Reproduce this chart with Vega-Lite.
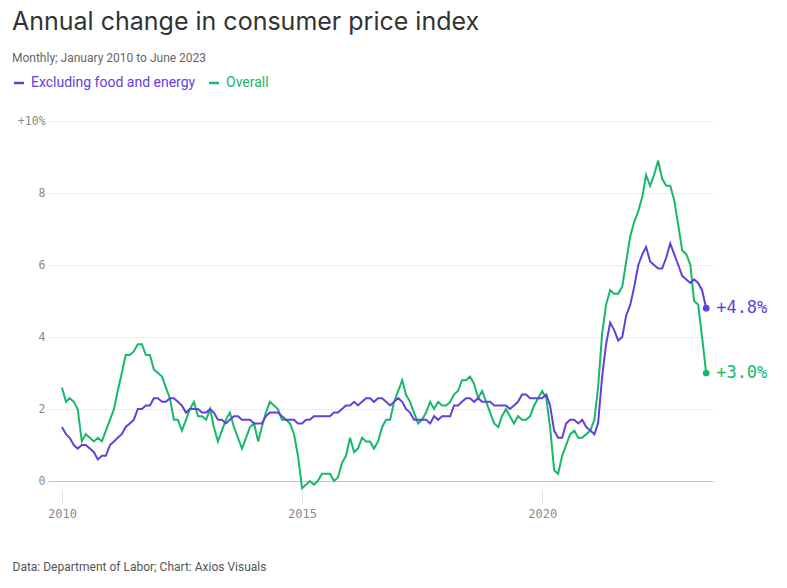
{
  "$schema": "https://vega.github.io/schema/vega-lite/v6.json",
  "width": 665,
  "height": 360,
  "autosize": {"type": "none"},
  "padding": {"left": 48, "top": 121, "right": 74, "bottom": 107},
  "background": "#ffffff",
  "config": {"view": {"stroke": null}, "font": "Inter"},
  "title": {
    "text": "Annual change in consumer price index",
    "subtitle": "Monthly; January 2010 to June 2023",
    "anchor": "start",
    "frame": "group",
    "dx": -36,
    "offset": 12,
    "font": "Inter",
    "fontSize": 25,
    "fontWeight": "normal",
    "color": "#333333",
    "subtitleFont": "Roboto",
    "subtitleFontSize": 12,
    "subtitleColor": "#666666",
    "subtitlePadding": 18
  },
  "data": {"values": [
    {"date":"2010-01","series":"Overall","value":2.6},{"date":"2010-02","series":"Overall","value":2.2},{"date":"2010-03","series":"Overall","value":2.3},{"date":"2010-04","series":"Overall","value":2.2},{"date":"2010-05","series":"Overall","value":2.0},{"date":"2010-06","series":"Overall","value":1.1},{"date":"2010-07","series":"Overall","value":1.3},{"date":"2010-08","series":"Overall","value":1.2},{"date":"2010-09","series":"Overall","value":1.1},{"date":"2010-10","series":"Overall","value":1.2},{"date":"2010-11","series":"Overall","value":1.1},{"date":"2010-12","series":"Overall","value":1.4},
    {"date":"2011-01","series":"Overall","value":1.7},{"date":"2011-02","series":"Overall","value":2.0},{"date":"2011-03","series":"Overall","value":2.5},{"date":"2011-04","series":"Overall","value":3.0},{"date":"2011-05","series":"Overall","value":3.5},{"date":"2011-06","series":"Overall","value":3.5},{"date":"2011-07","series":"Overall","value":3.6},{"date":"2011-08","series":"Overall","value":3.8},{"date":"2011-09","series":"Overall","value":3.8},{"date":"2011-10","series":"Overall","value":3.5},{"date":"2011-11","series":"Overall","value":3.5},{"date":"2011-12","series":"Overall","value":3.1},
    {"date":"2012-01","series":"Overall","value":3.0},{"date":"2012-02","series":"Overall","value":2.9},{"date":"2012-03","series":"Overall","value":2.6},{"date":"2012-04","series":"Overall","value":2.3},{"date":"2012-05","series":"Overall","value":1.7},{"date":"2012-06","series":"Overall","value":1.7},{"date":"2012-07","series":"Overall","value":1.4},{"date":"2012-08","series":"Overall","value":1.7},{"date":"2012-09","series":"Overall","value":2.0},{"date":"2012-10","series":"Overall","value":2.2},{"date":"2012-11","series":"Overall","value":1.8},{"date":"2012-12","series":"Overall","value":1.8},
    {"date":"2013-01","series":"Overall","value":1.7},{"date":"2013-02","series":"Overall","value":2.0},{"date":"2013-03","series":"Overall","value":1.5},{"date":"2013-04","series":"Overall","value":1.1},{"date":"2013-05","series":"Overall","value":1.4},{"date":"2013-06","series":"Overall","value":1.7},{"date":"2013-07","series":"Overall","value":1.9},{"date":"2013-08","series":"Overall","value":1.5},{"date":"2013-09","series":"Overall","value":1.2},{"date":"2013-10","series":"Overall","value":0.9},{"date":"2013-11","series":"Overall","value":1.2},{"date":"2013-12","series":"Overall","value":1.5},
    {"date":"2014-01","series":"Overall","value":1.6},{"date":"2014-02","series":"Overall","value":1.1},{"date":"2014-03","series":"Overall","value":1.5},{"date":"2014-04","series":"Overall","value":1.9},{"date":"2014-05","series":"Overall","value":2.2},{"date":"2014-06","series":"Overall","value":2.1},{"date":"2014-07","series":"Overall","value":2.0},{"date":"2014-08","series":"Overall","value":1.7},{"date":"2014-09","series":"Overall","value":1.7},{"date":"2014-10","series":"Overall","value":1.6},{"date":"2014-11","series":"Overall","value":1.3},{"date":"2014-12","series":"Overall","value":0.7},
    {"date":"2015-01","series":"Overall","value":-0.2},{"date":"2015-02","series":"Overall","value":-0.1},{"date":"2015-03","series":"Overall","value":0.0},{"date":"2015-04","series":"Overall","value":-0.1},{"date":"2015-05","series":"Overall","value":0.0},{"date":"2015-06","series":"Overall","value":0.2},{"date":"2015-07","series":"Overall","value":0.2},{"date":"2015-08","series":"Overall","value":0.2},{"date":"2015-09","series":"Overall","value":0.0},{"date":"2015-10","series":"Overall","value":0.1},{"date":"2015-11","series":"Overall","value":0.5},{"date":"2015-12","series":"Overall","value":0.7},
    {"date":"2016-01","series":"Overall","value":1.2},{"date":"2016-02","series":"Overall","value":0.8},{"date":"2016-03","series":"Overall","value":0.9},{"date":"2016-04","series":"Overall","value":1.2},{"date":"2016-05","series":"Overall","value":1.1},{"date":"2016-06","series":"Overall","value":1.1},{"date":"2016-07","series":"Overall","value":0.9},{"date":"2016-08","series":"Overall","value":1.1},{"date":"2016-09","series":"Overall","value":1.5},{"date":"2016-10","series":"Overall","value":1.7},{"date":"2016-11","series":"Overall","value":1.7},{"date":"2016-12","series":"Overall","value":2.2},
    {"date":"2017-01","series":"Overall","value":2.5},{"date":"2017-02","series":"Overall","value":2.8},{"date":"2017-03","series":"Overall","value":2.4},{"date":"2017-04","series":"Overall","value":2.2},{"date":"2017-05","series":"Overall","value":1.9},{"date":"2017-06","series":"Overall","value":1.6},{"date":"2017-07","series":"Overall","value":1.7},{"date":"2017-08","series":"Overall","value":1.9},{"date":"2017-09","series":"Overall","value":2.2},{"date":"2017-10","series":"Overall","value":2.0},{"date":"2017-11","series":"Overall","value":2.2},{"date":"2017-12","series":"Overall","value":2.1},
    {"date":"2018-01","series":"Overall","value":2.1},{"date":"2018-02","series":"Overall","value":2.2},{"date":"2018-03","series":"Overall","value":2.4},{"date":"2018-04","series":"Overall","value":2.5},{"date":"2018-05","series":"Overall","value":2.8},{"date":"2018-06","series":"Overall","value":2.8},{"date":"2018-07","series":"Overall","value":2.9},{"date":"2018-08","series":"Overall","value":2.7},{"date":"2018-09","series":"Overall","value":2.3},{"date":"2018-10","series":"Overall","value":2.5},{"date":"2018-11","series":"Overall","value":2.2},{"date":"2018-12","series":"Overall","value":1.9},
    {"date":"2019-01","series":"Overall","value":1.6},{"date":"2019-02","series":"Overall","value":1.5},{"date":"2019-03","series":"Overall","value":1.8},{"date":"2019-04","series":"Overall","value":2.0},{"date":"2019-05","series":"Overall","value":1.8},{"date":"2019-06","series":"Overall","value":1.6},{"date":"2019-07","series":"Overall","value":1.8},{"date":"2019-08","series":"Overall","value":1.7},{"date":"2019-09","series":"Overall","value":1.7},{"date":"2019-10","series":"Overall","value":1.8},{"date":"2019-11","series":"Overall","value":2.1},{"date":"2019-12","series":"Overall","value":2.3},
    {"date":"2020-01","series":"Overall","value":2.5},{"date":"2020-02","series":"Overall","value":2.3},{"date":"2020-03","series":"Overall","value":1.5},{"date":"2020-04","series":"Overall","value":0.3},{"date":"2020-05","series":"Overall","value":0.2},{"date":"2020-06","series":"Overall","value":0.7},{"date":"2020-07","series":"Overall","value":1.0},{"date":"2020-08","series":"Overall","value":1.3},{"date":"2020-09","series":"Overall","value":1.4},{"date":"2020-10","series":"Overall","value":1.2},{"date":"2020-11","series":"Overall","value":1.2},{"date":"2020-12","series":"Overall","value":1.3},
    {"date":"2021-01","series":"Overall","value":1.4},{"date":"2021-02","series":"Overall","value":1.7},{"date":"2021-03","series":"Overall","value":2.6},{"date":"2021-04","series":"Overall","value":4.1},{"date":"2021-05","series":"Overall","value":4.9},{"date":"2021-06","series":"Overall","value":5.3},{"date":"2021-07","series":"Overall","value":5.2},{"date":"2021-08","series":"Overall","value":5.2},{"date":"2021-09","series":"Overall","value":5.4},{"date":"2021-10","series":"Overall","value":6.1},{"date":"2021-11","series":"Overall","value":6.8},{"date":"2021-12","series":"Overall","value":7.2},
    {"date":"2022-01","series":"Overall","value":7.5},{"date":"2022-02","series":"Overall","value":7.9},{"date":"2022-03","series":"Overall","value":8.5},{"date":"2022-04","series":"Overall","value":8.2},{"date":"2022-05","series":"Overall","value":8.5},{"date":"2022-06","series":"Overall","value":8.9},{"date":"2022-07","series":"Overall","value":8.4},{"date":"2022-08","series":"Overall","value":8.2},{"date":"2022-09","series":"Overall","value":8.2},{"date":"2022-10","series":"Overall","value":7.8},{"date":"2022-11","series":"Overall","value":7.1},{"date":"2022-12","series":"Overall","value":6.4},
    {"date":"2023-01","series":"Overall","value":6.3},{"date":"2023-02","series":"Overall","value":6.0},{"date":"2023-03","series":"Overall","value":5.0},{"date":"2023-04","series":"Overall","value":4.9},{"date":"2023-05","series":"Overall","value":4.0},{"date":"2023-06","series":"Overall","value":3.0},
    {"date":"2010-01","series":"Excluding food and energy","value":1.5},{"date":"2010-02","series":"Excluding food and energy","value":1.3},{"date":"2010-03","series":"Excluding food and energy","value":1.2},{"date":"2010-04","series":"Excluding food and energy","value":1.0},{"date":"2010-05","series":"Excluding food and energy","value":0.9},{"date":"2010-06","series":"Excluding food and energy","value":1.0},{"date":"2010-07","series":"Excluding food and energy","value":1.0},{"date":"2010-08","series":"Excluding food and energy","value":0.9},{"date":"2010-09","series":"Excluding food and energy","value":0.8},{"date":"2010-10","series":"Excluding food and energy","value":0.6},{"date":"2010-11","series":"Excluding food and energy","value":0.7},{"date":"2010-12","series":"Excluding food and energy","value":0.7},
    {"date":"2011-01","series":"Excluding food and energy","value":1.0},{"date":"2011-02","series":"Excluding food and energy","value":1.1},{"date":"2011-03","series":"Excluding food and energy","value":1.2},{"date":"2011-04","series":"Excluding food and energy","value":1.3},{"date":"2011-05","series":"Excluding food and energy","value":1.5},{"date":"2011-06","series":"Excluding food and energy","value":1.6},{"date":"2011-07","series":"Excluding food and energy","value":1.7},{"date":"2011-08","series":"Excluding food and energy","value":2.0},{"date":"2011-09","series":"Excluding food and energy","value":2.0},{"date":"2011-10","series":"Excluding food and energy","value":2.1},{"date":"2011-11","series":"Excluding food and energy","value":2.1},{"date":"2011-12","series":"Excluding food and energy","value":2.3},
    {"date":"2012-01","series":"Excluding food and energy","value":2.3},{"date":"2012-02","series":"Excluding food and energy","value":2.2},{"date":"2012-03","series":"Excluding food and energy","value":2.2},{"date":"2012-04","series":"Excluding food and energy","value":2.3},{"date":"2012-05","series":"Excluding food and energy","value":2.3},{"date":"2012-06","series":"Excluding food and energy","value":2.2},{"date":"2012-07","series":"Excluding food and energy","value":2.1},{"date":"2012-08","series":"Excluding food and energy","value":1.9},{"date":"2012-09","series":"Excluding food and energy","value":2.0},{"date":"2012-10","series":"Excluding food and energy","value":2.0},{"date":"2012-11","series":"Excluding food and energy","value":2.0},{"date":"2012-12","series":"Excluding food and energy","value":1.9},
    {"date":"2013-01","series":"Excluding food and energy","value":1.9},{"date":"2013-02","series":"Excluding food and energy","value":2.0},{"date":"2013-03","series":"Excluding food and energy","value":1.9},{"date":"2013-04","series":"Excluding food and energy","value":1.7},{"date":"2013-05","series":"Excluding food and energy","value":1.7},{"date":"2013-06","series":"Excluding food and energy","value":1.6},{"date":"2013-07","series":"Excluding food and energy","value":1.7},{"date":"2013-08","series":"Excluding food and energy","value":1.8},{"date":"2013-09","series":"Excluding food and energy","value":1.8},{"date":"2013-10","series":"Excluding food and energy","value":1.7},{"date":"2013-11","series":"Excluding food and energy","value":1.7},{"date":"2013-12","series":"Excluding food and energy","value":1.7},
    {"date":"2014-01","series":"Excluding food and energy","value":1.6},{"date":"2014-02","series":"Excluding food and energy","value":1.6},{"date":"2014-03","series":"Excluding food and energy","value":1.6},{"date":"2014-04","series":"Excluding food and energy","value":1.8},{"date":"2014-05","series":"Excluding food and energy","value":1.9},{"date":"2014-06","series":"Excluding food and energy","value":1.9},{"date":"2014-07","series":"Excluding food and energy","value":1.9},{"date":"2014-08","series":"Excluding food and energy","value":1.8},{"date":"2014-09","series":"Excluding food and energy","value":1.7},{"date":"2014-10","series":"Excluding food and energy","value":1.7},{"date":"2014-11","series":"Excluding food and energy","value":1.7},{"date":"2014-12","series":"Excluding food and energy","value":1.6},
    {"date":"2015-01","series":"Excluding food and energy","value":1.6},{"date":"2015-02","series":"Excluding food and energy","value":1.7},{"date":"2015-03","series":"Excluding food and energy","value":1.7},{"date":"2015-04","series":"Excluding food and energy","value":1.8},{"date":"2015-05","series":"Excluding food and energy","value":1.8},{"date":"2015-06","series":"Excluding food and energy","value":1.8},{"date":"2015-07","series":"Excluding food and energy","value":1.8},{"date":"2015-08","series":"Excluding food and energy","value":1.8},{"date":"2015-09","series":"Excluding food and energy","value":1.9},{"date":"2015-10","series":"Excluding food and energy","value":1.9},{"date":"2015-11","series":"Excluding food and energy","value":2.0},{"date":"2015-12","series":"Excluding food and energy","value":2.1},
    {"date":"2016-01","series":"Excluding food and energy","value":2.1},{"date":"2016-02","series":"Excluding food and energy","value":2.2},{"date":"2016-03","series":"Excluding food and energy","value":2.1},{"date":"2016-04","series":"Excluding food and energy","value":2.2},{"date":"2016-05","series":"Excluding food and energy","value":2.3},{"date":"2016-06","series":"Excluding food and energy","value":2.3},{"date":"2016-07","series":"Excluding food and energy","value":2.2},{"date":"2016-08","series":"Excluding food and energy","value":2.3},{"date":"2016-09","series":"Excluding food and energy","value":2.3},{"date":"2016-10","series":"Excluding food and energy","value":2.2},{"date":"2016-11","series":"Excluding food and energy","value":2.1},{"date":"2016-12","series":"Excluding food and energy","value":2.2},
    {"date":"2017-01","series":"Excluding food and energy","value":2.3},{"date":"2017-02","series":"Excluding food and energy","value":2.2},{"date":"2017-03","series":"Excluding food and energy","value":2.0},{"date":"2017-04","series":"Excluding food and energy","value":1.9},{"date":"2017-05","series":"Excluding food and energy","value":1.7},{"date":"2017-06","series":"Excluding food and energy","value":1.7},{"date":"2017-07","series":"Excluding food and energy","value":1.7},{"date":"2017-08","series":"Excluding food and energy","value":1.7},{"date":"2017-09","series":"Excluding food and energy","value":1.6},{"date":"2017-10","series":"Excluding food and energy","value":1.8},{"date":"2017-11","series":"Excluding food and energy","value":1.7},{"date":"2017-12","series":"Excluding food and energy","value":1.8},
    {"date":"2018-01","series":"Excluding food and energy","value":1.8},{"date":"2018-02","series":"Excluding food and energy","value":1.8},{"date":"2018-03","series":"Excluding food and energy","value":2.1},{"date":"2018-04","series":"Excluding food and energy","value":2.1},{"date":"2018-05","series":"Excluding food and energy","value":2.2},{"date":"2018-06","series":"Excluding food and energy","value":2.3},{"date":"2018-07","series":"Excluding food and energy","value":2.3},{"date":"2018-08","series":"Excluding food and energy","value":2.2},{"date":"2018-09","series":"Excluding food and energy","value":2.3},{"date":"2018-10","series":"Excluding food and energy","value":2.2},{"date":"2018-11","series":"Excluding food and energy","value":2.2},{"date":"2018-12","series":"Excluding food and energy","value":2.2},
    {"date":"2019-01","series":"Excluding food and energy","value":2.1},{"date":"2019-02","series":"Excluding food and energy","value":2.1},{"date":"2019-03","series":"Excluding food and energy","value":2.1},{"date":"2019-04","series":"Excluding food and energy","value":2.1},{"date":"2019-05","series":"Excluding food and energy","value":2.0},{"date":"2019-06","series":"Excluding food and energy","value":2.1},{"date":"2019-07","series":"Excluding food and energy","value":2.2},{"date":"2019-08","series":"Excluding food and energy","value":2.4},{"date":"2019-09","series":"Excluding food and energy","value":2.4},{"date":"2019-10","series":"Excluding food and energy","value":2.3},{"date":"2019-11","series":"Excluding food and energy","value":2.3},{"date":"2019-12","series":"Excluding food and energy","value":2.3},
    {"date":"2020-01","series":"Excluding food and energy","value":2.3},{"date":"2020-02","series":"Excluding food and energy","value":2.4},{"date":"2020-03","series":"Excluding food and energy","value":2.1},{"date":"2020-04","series":"Excluding food and energy","value":1.4},{"date":"2020-05","series":"Excluding food and energy","value":1.2},{"date":"2020-06","series":"Excluding food and energy","value":1.2},{"date":"2020-07","series":"Excluding food and energy","value":1.6},{"date":"2020-08","series":"Excluding food and energy","value":1.7},{"date":"2020-09","series":"Excluding food and energy","value":1.7},{"date":"2020-10","series":"Excluding food and energy","value":1.6},{"date":"2020-11","series":"Excluding food and energy","value":1.7},{"date":"2020-12","series":"Excluding food and energy","value":1.5},
    {"date":"2021-01","series":"Excluding food and energy","value":1.4},{"date":"2021-02","series":"Excluding food and energy","value":1.3},{"date":"2021-03","series":"Excluding food and energy","value":1.6},{"date":"2021-04","series":"Excluding food and energy","value":2.9},{"date":"2021-05","series":"Excluding food and energy","value":3.8},{"date":"2021-06","series":"Excluding food and energy","value":4.4},{"date":"2021-07","series":"Excluding food and energy","value":4.2},{"date":"2021-08","series":"Excluding food and energy","value":3.9},{"date":"2021-09","series":"Excluding food and energy","value":4.0},{"date":"2021-10","series":"Excluding food and energy","value":4.6},{"date":"2021-11","series":"Excluding food and energy","value":4.9},{"date":"2021-12","series":"Excluding food and energy","value":5.4},
    {"date":"2022-01","series":"Excluding food and energy","value":6.0},{"date":"2022-02","series":"Excluding food and energy","value":6.3},{"date":"2022-03","series":"Excluding food and energy","value":6.5},{"date":"2022-04","series":"Excluding food and energy","value":6.1},{"date":"2022-05","series":"Excluding food and energy","value":6.0},{"date":"2022-06","series":"Excluding food and energy","value":5.9},{"date":"2022-07","series":"Excluding food and energy","value":5.9},{"date":"2022-08","series":"Excluding food and energy","value":6.2},{"date":"2022-09","series":"Excluding food and energy","value":6.6},{"date":"2022-10","series":"Excluding food and energy","value":6.3},{"date":"2022-11","series":"Excluding food and energy","value":6.0},{"date":"2022-12","series":"Excluding food and energy","value":5.7},
    {"date":"2023-01","series":"Excluding food and energy","value":5.6},{"date":"2023-02","series":"Excluding food and energy","value":5.5},{"date":"2023-03","series":"Excluding food and energy","value":5.6},{"date":"2023-04","series":"Excluding food and energy","value":5.5},{"date":"2023-05","series":"Excluding food and energy","value":5.3},{"date":"2023-06","series":"Excluding food and energy","value":4.8}
  ]},
  "encoding": {
    "x": {
      "field": "date",
      "type": "temporal",
      "scale": {"type": "utc", "domain": [{"year": 2009, "month": 9, "date": 17, "utc": true}, {"year": 2023, "month": 7, "date": 23, "utc": true}]},
      "axis": {
        "values": [{"year": 2010, "utc": true}, {"year": 2015, "utc": true}, {"year": 2020, "utc": true}],
        "format": "%Y",
        "grid": false,
        "domain": false,
        "offset": 9,
        "tickSize": 13,
        "tickColor": "#e3e3e3",
        "labelPadding": 5,
        "labelFont": "DejaVu Sans Mono",
        "labelFontSize": 12,
        "labelColor": "#8a8a8a",
        "title": "Data: Department of Labor; Chart: Axios Visuals",
        "titleAnchor": "start",
        "titleAlign": "left",
        "titleBaseline": "alphabetic",
        "titleX": -36,
        "titleY": 80,
        "titleFont": "Roboto",
        "titleFontSize": 12,
        "titleFontWeight": "normal",
        "titleColor": "#555555"
      }
    },
    "y": {
      "field": "value",
      "type": "quantitative",
      "scale": {"domain": [0, 10], "nice": false, "zero": false},
      "axis": {
        "values": [0, 2, 4, 6, 8, 10],
        "title": null,
        "domain": false,
        "ticks": false,
        "labelPadding": 3,
        "labelFont": "DejaVu Sans Mono",
        "labelFontSize": 11.5,
        "labelColor": "#8a8a8a",
        "labelExpr": "datum.value == 10 ? '+10%' : datum.label",
        "gridColor": {"condition": {"test": "datum.value === 0", "value": "#c4c4c4"}, "value": "#ececec"},
        "gridWidth": 1
      }
    },
    "color": {
      "field": "series",
      "type": "nominal",
      "scale": {"domain": ["Excluding food and energy", "Overall"], "range": ["#6241d9", "#16b86a"]},
      "legend": {
        "orient": "none",
        "legendX": -36,
        "legendY": -45,
        "direction": "horizontal",
        "title": null,
        "symbolType": "stroke",
        "symbolSize": 100,
        "symbolStrokeWidth": 2.5,
        "labelFont": "Roboto",
        "labelFontSize": 14,
        "labelOffset": 5,
        "columnPadding": 8,
        "labelLimit": 300,
        "encode": {"labels": {"update": {"fill": {"scale": "color", "field": "value"}}}}
      }
    }
  },
  "layer": [
    {"mark": {"type": "line", "strokeWidth": 2, "interpolate": "linear"}},
    {
      "transform": [
        {"filter": "time(datum.date) === utc(2023, 5, 1)"},
        {"calculate": "format(datum.value, '+.1f') + '%'", "as": "label"}
      ],
      "layer": [
        {"mark": {"type": "point", "filled": true, "size": 45, "opacity": 1}},
        {"mark": {"type": "text", "align": "left", "baseline": "middle", "dx": 10, "font": "DejaVu Sans Mono", "fontSize": 17}, "encoding": {"text": {"field": "label"}}}
      ]
    }
  ]
}
